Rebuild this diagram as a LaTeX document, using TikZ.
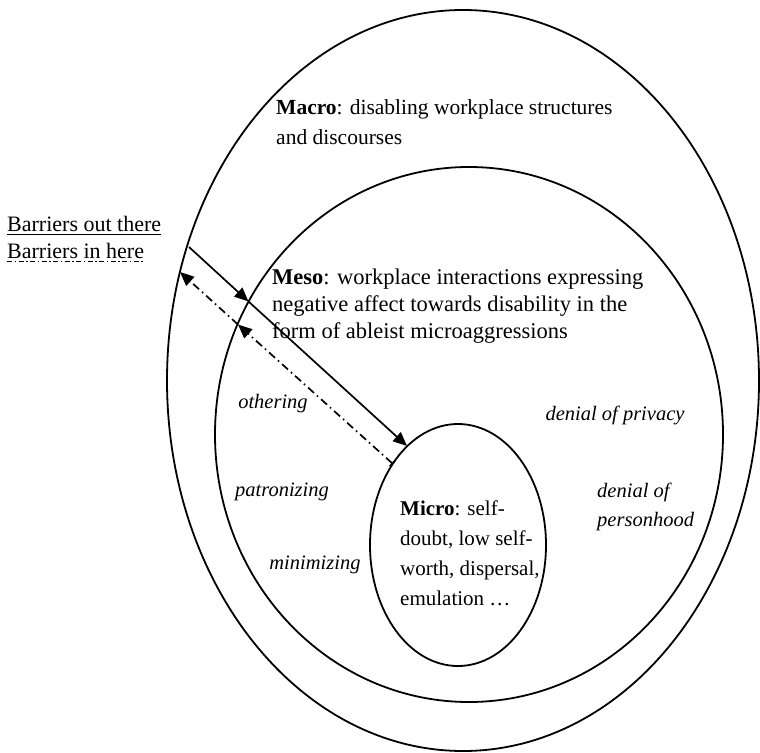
\documentclass[tikz,border=0pt]{standalone}
\usepackage{fontspec}
\setmainfont{Liberation Serif}
\usetikzlibrary{arrows.meta,shapes.geometric}
\begin{document}
\begin{tikzpicture}[x=1pt,y=-1pt,
  ring/.style={draw,ellipse,line width=1.8pt,inner sep=0pt},
  txt/.style={font=\fontsize{22}{30}\selectfont,align=left,inner sep=0pt},
  itx/.style={font=\fontsize{20.5}{29}\selectfont\itshape,align=left,inner sep=0pt},
  conn/.style={line width=1.7pt},
  tipa/.style={-{Triangle[length=14pt,width=12pt]}},
  ddash/.style={dash pattern=on 8pt off 4pt on 1.5pt off 4pt},
  uline/.style={line width=0.9pt}]
\useasboundingbox (0,0) rectangle (760,752);
\node[ring,minimum width=592pt,minimum height=741pt] (macro) at (463,380.5) {};
\node[ring,minimum width=508pt,minimum height=535pt] (meso) at (469,434.5) {};
\node[ring,minimum width=176pt,minimum height=242pt] (micro) at (458,545) {};

\node[txt,font=\fontsize{21.5}{30}\selectfont,anchor=base west] (tmacro) at (276,144) {\textbf{Macro}: disabling workplace structures\\and discourses};
\node[txt,font=\fontsize{22.5}{27}\selectfont,anchor=base west] (tmeso) at (272,338) {\textbf{Meso}: workplace interactions expressing\\negative affect towards disability in the\\form of ableist microaggressions};
\node[txt,font=\fontsize{21}{30}\selectfont,anchor=base west] (tmicro) at (400,605) {\textbf{Micro}: self-\\doubt, low self-\\worth, dispersal,\\emulation \dots};

\node[itx] (oth) at (273,404) {othering};
\node[itx] (priv) at (615,415) {denial of privacy};
\node[itx] (pat) at (282,492) {patronizing};
\node[itx,anchor=base west] (pers) at (597,526) {denial of\\personhood};
\node[itx] (mini) at (315,565) {minimizing};

\node[txt,anchor=base west] (bout) at (7,231) {Barriers out there};
\node[txt,anchor=base west] (bin) at (7,258) {Barriers in here};
\draw[uline] ([yshift=-3pt]bout.base west) -- ([yshift=-3pt]bout.base east);
\draw[uline,dash pattern=on 5pt off 2.5pt on 1.5pt off 2.5pt] ([yshift=-3pt]bin.base west) -- ([yshift=-3pt]bin.base east);

\coordinate (s0) at (189,247);
\coordinate (s1) at (248.5,301.5);
\coordinate (s2) at (407,446);
\coordinate (d0) at (393,464);
\coordinate (d1) at (238,324.5);
\coordinate (d2) at (180,272);
\draw[conn,tipa] (s0) -- (s1);
\draw[conn,tipa] (s1) -- (s2);
\draw[conn,ddash,{Bar[width=8pt]}-{Triangle[length=14pt,width=12pt]}] (d0) -- (d1);
\draw[conn,ddash,tipa] (d1) -- (d2);
\end{tikzpicture}
\end{document}
